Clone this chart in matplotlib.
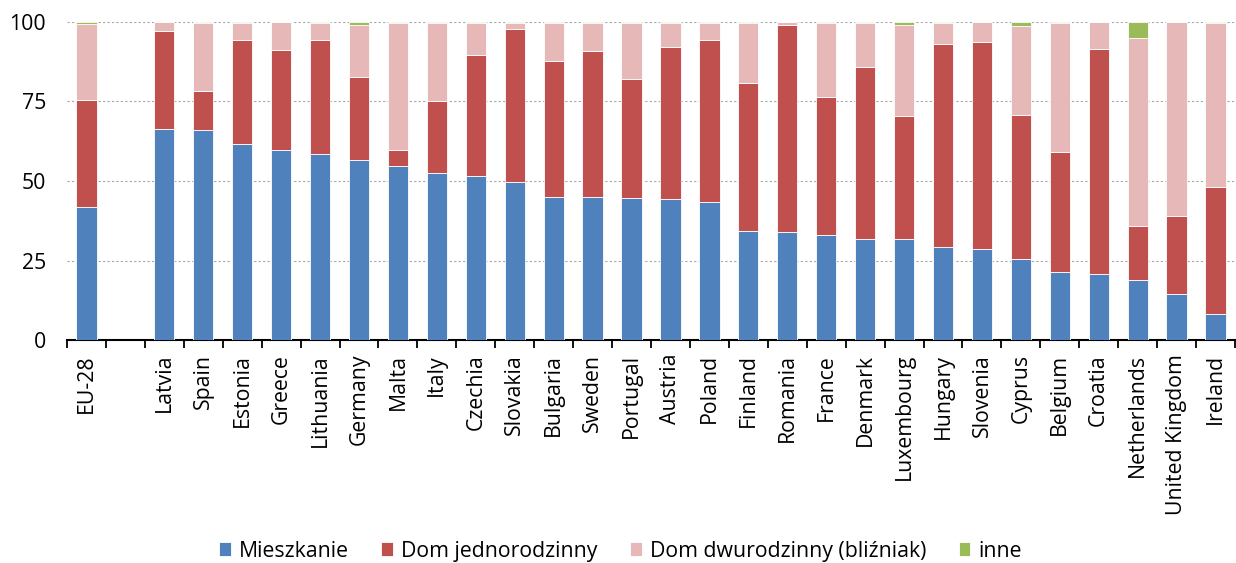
import numpy as np
import matplotlib
import matplotlib.pyplot as plt

matplotlib.rcParams['font.family'] = ['Open Sans', 'DejaVu Sans']

countries = ['EU-28', '', 'Latvia', 'Spain', 'Estonia', 'Greece', 'Lithuania', 'Germany',
             'Malta', 'Italy', 'Czechia', 'Slovakia', 'Bulgaria', 'Sweden', 'Portugal',
             'Austria', 'Poland', 'Finland', 'Romania', 'France', 'Denmark', 'Luxembourg',
             'Hungary', 'Slovenia', 'Cyprus', 'Belgium', 'Croatia', 'Netherlands',
             'United Kingdom', 'Ireland']

mieszkanie = [41.8, 0, 66.3, 66.0, 61.6, 59.7, 58.6, 56.5, 54.6, 52.4, 51.5, 49.7, 45.0,
              45.0, 44.6, 44.4, 43.4, 34.2, 33.9, 32.9, 31.7, 31.7, 29.3, 28.6, 25.5,
              21.3, 20.7, 18.8, 14.5, 8.1]
jednorodzinny = [33.6, 0, 30.8, 12.2, 32.8, 31.4, 35.6, 26.3, 5.1, 22.9, 38.0, 48.1, 42.7,
                 45.8, 37.5, 47.6, 50.8, 46.5, 65.0, 43.6, 54.0, 38.7, 63.7, 65.2, 45.3,
                 37.9, 70.9, 16.9, 24.5, 40.0]
blizniak = [24.1, 0, 2.8, 21.6, 5.2, 8.9, 5.5, 16.2, 40.1, 24.5, 10.1, 1.8, 12.0,
            9.0, 17.7, 7.6, 5.6, 19.0, 1.1, 23.3, 14.0, 28.8, 6.7, 6.1, 28.0,
            40.6, 8.4, 59.1, 60.9, 51.7]
inne = [0.5, 0, 0.1, 0.2, 0.4, 0.0, 0.3, 1.0, 0.2, 0.2, 0.4, 0.4, 0.3,
        0.2, 0.2, 0.4, 0.2, 0.3, 0.0, 0.2, 0.3, 0.8, 0.3, 0.1, 1.2,
        0.2, 0.0, 5.2, 0.1, 0.2]

series = [('Mieszkanie', mieszkanie, '#4F81BD'),
          ('Dom jednorodzinny', jednorodzinny, '#C0504D'),
          ('Dom dwurodzinny (bliźniak)', blizniak, '#E6B9B8'),
          ('inne', inne, '#9BBB59')]

fs = 15.3

fig = plt.figure(figsize=(12.36, 5.63), dpi=100)
ax = fig.add_axes([0.0542, 0.396, 0.945, 0.565])

x = np.arange(len(countries))
bottom = np.zeros(len(countries))
for name, vals, col in series:
    vals = np.array(vals)
    ax.bar(x, vals, 0.52, bottom=bottom, color=col, label=name,
           edgecolor='white', linewidth=0.6, zorder=3)
    bottom += vals

ax.set_xlim(-0.5, len(countries) - 0.5)
ax.set_ylim(0, 100)
ax.set_yticks([0, 25, 50, 75, 100])
ax.yaxis.grid(True, color='#a6a6a6', linestyle=(0, (2, 2)), linewidth=0.8, zorder=0)

# tick marks on slot boundaries, labels at slot centres
ax.set_xticks(np.arange(len(countries) + 1) - 0.5)
ax.set_xticklabels([])
ax.set_xticks(x, minor=True)
ax.set_xticklabels(countries, minor=True, rotation=90, fontsize=fs)
ax.tick_params(axis='x', which='major', length=6, width=1.3, direction='out')
ax.tick_params(axis='x', which='minor', length=0, pad=10)
ax.tick_params(axis='y', length=0, labelsize=fs, pad=15)

for s in ['top', 'right', 'left']:
    ax.spines[s].set_visible(False)
ax.spines['bottom'].set_linewidth(1.5)

fig.legend(loc='center', bbox_to_anchor=(0.502, 0.021), ncol=4, frameon=False,
           fontsize=fs, handlelength=0.56, handleheight=0.6, handletextpad=0.38,
           columnspacing=1.52, borderpad=0)

fig.savefig('out.png', dpi=100)
